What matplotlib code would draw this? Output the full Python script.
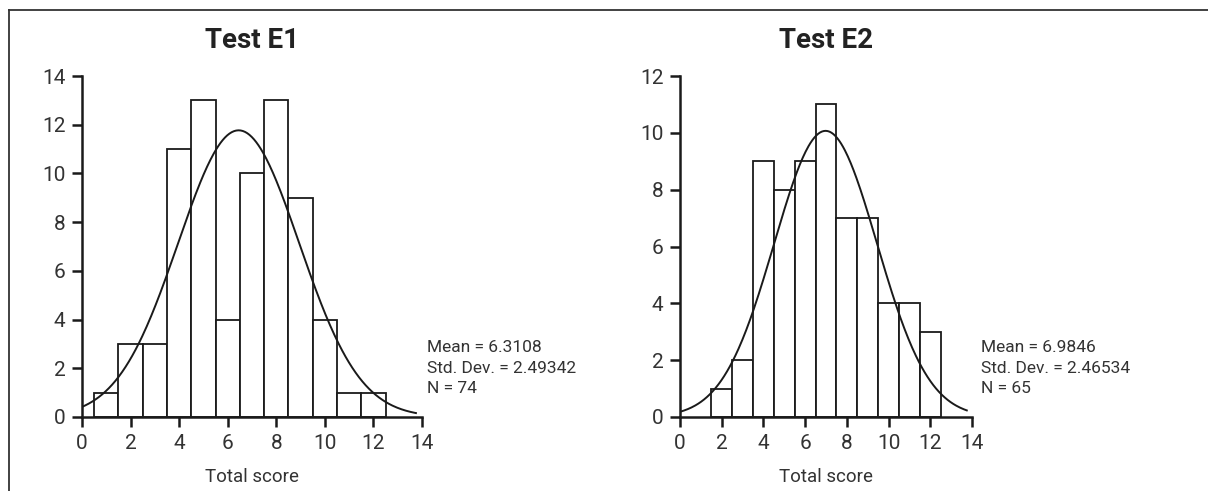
import numpy as np
import matplotlib
matplotlib.use("Agg")
import matplotlib.pyplot as plt
from matplotlib.lines import Line2D

plt.rcParams['font.family'] = ['Roboto', 'DejaVu Sans']

# histogram data (bin centres, width 1)
titles = ["Test E1", "Test E2"]
e1_centres = [1, 2, 3, 4, 5, 6, 7, 8, 9, 10, 11, 12]
e1_counts = [1, 3, 3, 11, 13, 4, 10, 13, 9, 4, 1, 1]
e2_centres = [2, 3, 4, 5, 6, 7, 8, 9, 10, 11, 12]
e2_counts = [1, 2, 9, 8, 9, 11, 7, 7, 4, 4, 3]
means = [6.3108, 6.9846]
sds = [2.49342, 2.46534]
ns = [74, 65]
# fitted curve as drawn: peak height and peak position
curve_peaks = [11.77, 10.07]
curve_centres = [6.45, 6.98]
ymax = [14, 12]

fig = plt.figure(figsize=(12.08, 4.91), dpi=100)
W, H = 1208, 491
boxes = [(82, 422), (680, 972)]
top_px, bot_px = 76, 417

data = [(e1_centres, e1_counts), (e2_centres, e2_counts)]
for i, ((x0, x1), (cent, cnt)) in enumerate(zip(boxes, data)):
    ax = fig.add_axes([x0 / W, (H - bot_px) / H, (x1 - x0) / W, (bot_px - top_px) / H])
    ax.bar(cent, cnt, width=1, color='white', edgecolor='#1a1a1a', linewidth=1.3, zorder=2)
    xs = np.linspace(0, 13.75, 300)
    ys = curve_peaks[i] * np.exp(-(xs - curve_centres[i]) ** 2 / (2 * sds[i] ** 2))
    ax.plot(xs, ys, color='#1a1a1a', lw=1.4, zorder=3)
    ax.set_xlim(0, 14)
    ax.set_ylim(0, ymax[i])
    ax.set_xticks(range(0, 15, 2))
    ax.set_yticks(range(0, ymax[i] + 1, 2))
    for s in ['top', 'right']:
        ax.spines[s].set_visible(False)
    for s in ['left', 'bottom']:
        ax.spines[s].set_linewidth(1.8)
        ax.spines[s].set_color('#1a1a1a')
    ax.tick_params(length=7, width=1.8, labelsize=15, pad=5, color='#1a1a1a', labelcolor='#333333')
    ax.set_title(titles[i], fontsize=20, fontweight='bold', pad=20, color='#222222')
    ax.set_xlabel("Total score", fontsize=13.5, labelpad=11, color='#333333')
    ax.text(1.015 if i == 0 else 1.031, 0.225,
            f"Mean = {means[i]}\nStd. Dev. = {sds[i]}\nN = {ns[i]}",
            transform=ax.transAxes, va='top', ha='left', fontsize=12.5,
            linespacing=1.45, color='#333333')

# outer frame (left and top edges)
fig.add_artist(Line2D([9 / W, 9 / W], [0, 1 - 10 / H], transform=fig.transFigure,
                      color='#333333', lw=1.3))
fig.add_artist(Line2D([9 / W, 1], [1 - 10 / H, 1 - 10 / H], transform=fig.transFigure,
                      color='#333333', lw=1.3))

fig.savefig("out.png", dpi=100)
